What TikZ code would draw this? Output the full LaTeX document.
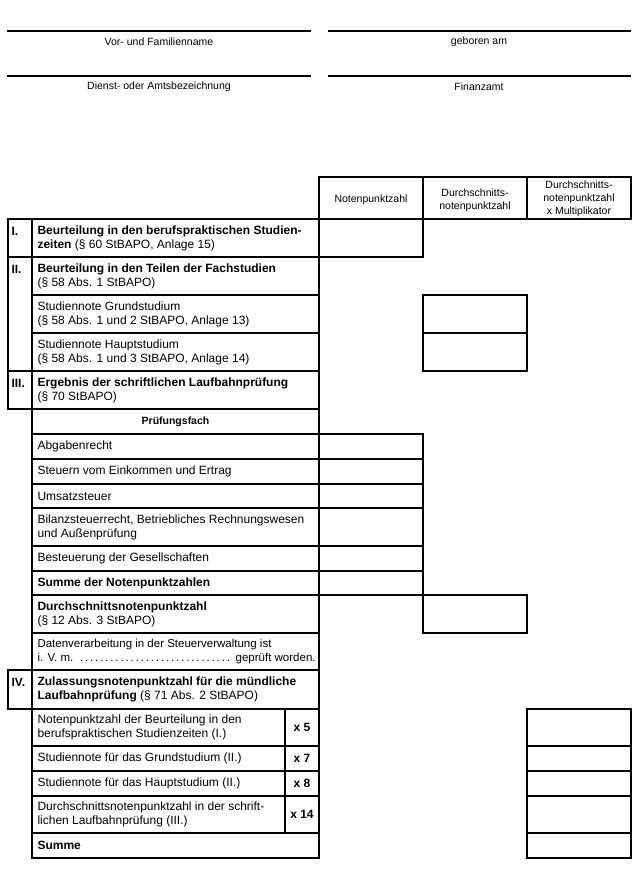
\documentclass[tikz,border=0pt]{standalone}
\usepackage{fontspec}
\setmainfont{Liberation Sans}
\begin{document}
\begin{tikzpicture}[x=1pt,y=-1pt, line width=1.1pt, line cap=rect,
  body/.style={anchor=west, align=left, inner sep=0pt, font=\fontsize{12}{14}\selectfont},
  hdr/.style={align=center, inner sep=0pt, font=\fontsize{10.5}{13}\selectfont},
  lbl/.style={inner sep=0pt, font=\fontsize{10.5}{12}\selectfont},
  rom/.style={anchor=west, inner sep=0pt, font=\fontsize{12}{14}\selectfont\bfseries},
  mul/.style={inner sep=0pt, font=\fontsize{12}{14}\selectfont\bfseries}]
\useasboundingbox (0,0) rectangle (638,883);
% personal data lines
\draw (8,31) -- (310,31);
\draw (329,31) -- (630,31);
\draw (8,76) -- (310,76);
\draw (329,76) -- (630,76);
\node[lbl] (name) at (159,42) {Vor- und Familienname};
\node[lbl] (geb) at (479,42) {geboren am};
\node[lbl] (amt) at (159,87) {Dienst- oder Amtsbezeichnung};
\node[lbl] (fa) at (479,87) {Finanzamt};
% header
\draw (319,177) rectangle (631,219);
\draw (423,177) -- (423,219);
\draw (527,177) -- (527,219);
\node[hdr] (h1) at (371,200) {Notenpunktzahl};
\node[hdr] (h2) at (475,200) {Durchschnitts-\\notenpunktzahl};
\node[hdr] (h3) at (579,199) {Durchschnitts-\\notenpunktzahl\\x Multiplikator};
% verticals
\draw (8,219) -- (8,409);
\draw (8,670) -- (8,709);
\draw (32,219) -- (32,858);
\draw (319,219) -- (319,858);
% horizontals
\foreach \yy in {219,257,371,409,670,709} \draw (8,\yy) -- (319,\yy);
\foreach \yy in {295,333,434,459,484,508,546,571,633,746,771,796,833,858} \draw (32,\yy) -- (319,\yy);
\draw (32,595) -- (527,595);
% row I cell
\draw (319,257) -- (423,257);
\draw (423,219) -- (423,257);
% col2 boxes for Studiennoten
\draw (423,295) rectangle (527,371);
\draw (423,333) -- (527,333);
% Pruefungsfach cells
\foreach \yy in {434,459,484,508,546,571} \draw (319,\yy) -- (423,\yy);
\draw (423,434) -- (423,633);
\draw (423,633) -- (527,633);
\draw (527,595) -- (527,633);
% multiplier column
\draw (285,709) -- (285,833);
% right box
\draw (527,709) rectangle (631,858);
\foreach \yy in {746,771,796,833} \draw (527,\yy) -- (631,\yy);
% texts
\node[rom] (r1) at (11,231) {I.};
\node[body] (t1) at (37,238) {\textbf{Beurteilung in den berufspraktischen Studien-}\\\textbf{zeiten} (§ 60 StBAPO, Anlage 15)};
\node[rom] (r2) at (11,269) {II.};
\node[body] (t2) at (37,276) {\textbf{Beurteilung in den Teilen der Fachstudien}\\(§ 58 Abs. 1 StBAPO)};
\node[body] (t3) at (37,314) {Studiennote Grundstudium\\(§ 58 Abs. 1 und 2 StBAPO, Anlage 13)};
\node[body] (t4) at (37,352) {Studiennote Hauptstudium\\(§ 58 Abs. 1 und 3 StBAPO, Anlage 14)};
\node[rom] (r3) at (11,383) {III.};
\node[body] (t5) at (37,390) {\textbf{Ergebnis der schriftlichen Laufbahnprüfung}\\(§ 70 StBAPO)};
\node[hdr, font=\fontsize{10.5}{12}\selectfont\bfseries] (pf) at (175.5,421.5) {Prüfungsfach};
\node[body] (p1) at (37,446.5) {Abgabenrecht};
\node[body] (p2) at (37,471.5) {Steuern vom Einkommen und Ertrag};
\node[body] (p3) at (37,496) {Umsatzsteuer};
\node[body] (p4) at (37,527) {Bilanzsteuerrecht, Betriebliches Rechnungswesen\\und Außenprüfung};
\node[body] (p5) at (37,558.5) {Besteuerung der Gesellschaften};
\node[body] (p6) at (37,583) {\textbf{Summe der Notenpunktzahlen}};
\node[body] (p7) at (37,614) {\textbf{Durchschnittsnotenpunktzahl}\\(§ 12 Abs. 3 StBAPO)};
\node[body, font=\fontsize{11.5}{14}\selectfont] (p8) at (37,651.5) {Datenverarbeitung in der Steuerverwaltung ist\\\hbox to 278pt{i. V. m. \dotfill\ geprüft worden.}};
\node[rom] (r4) at (11,682) {IV.};
\node[body] (t6) at (37,689.5) {\textbf{Zulassungsnotenpunktzahl für die mündliche}\\\textbf{Laufbahnprüfung} (§ 71 Abs. 2 StBAPO)};
\node[body] (s1) at (37,727.5) {Notenpunktzahl der Beurteilung in den\\berufspraktischen Studienzeiten (I.)};
\node[body] (s2) at (37,758.5) {Studiennote für das Grundstudium (II.)};
\node[body] (s3) at (37,783.5) {Studiennote für das Hauptstudium (II.)};
\node[body] (s4) at (37,814.5) {Durchschnittsnotenpunktzahl in der schrift-\\lichen Laufbahnprüfung (III.)};
\node[body] (s5) at (37,845.5) {\textbf{Summe}};
\node[mul] (m1) at (302,727.5) {x 5};
\node[mul] (m2) at (302,758.5) {x 7};
\node[mul] (m3) at (302,783.5) {x 8};
\node[mul] (m4) at (302,814.5) {x 14};
\end{tikzpicture}
\end{document}
